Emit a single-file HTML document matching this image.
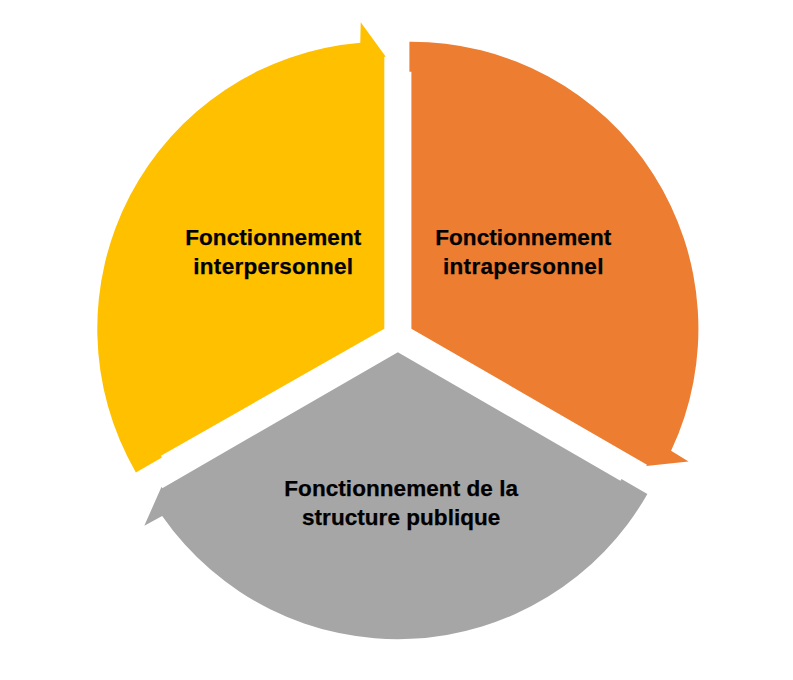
<!DOCTYPE html>
<html><head><meta charset="utf-8"><style>
html,body{margin:0;padding:0;background:#fff;}
body{width:793px;height:680px;position:relative;overflow:hidden;}
svg{position:absolute;left:0;top:0;}
.t{position:absolute;font-family:"Liberation Sans",sans-serif;font-weight:bold;color:#000;font-size:22.50px;line-height:22px;width:300px;text-align:center;white-space:nowrap;-webkit-text-stroke:0.25px #000;}
</style></head><body>
<svg width="793" height="680" viewBox="0 0 793 680">
<path fill="#FFC000" d="M384.30 328.68 L160.95 455.81 L161.94 457.55 L135.86 472.39 A287 287 0 0 1 360.28 42.68 L360.72 22.28 L385.80 56.68 L384.30 56.68 Z"/>
<path fill="#ED7D31" d="M411.40 328.68 L411.40 71.68 L409.40 71.68 L409.40 41.68 A287 287 0 0 1 671.09 450.87 L688.54 461.45 L646.21 465.97 L646.96 464.68 Z"/>
<path fill="#A6A6A6" d="M397.85 352.15 L620.42 480.65 L621.42 478.92 L647.40 493.92 A287 287 0 0 1 162.18 515.94 L144.29 525.76 L161.54 486.85 L162.29 488.15 Z"/>
</svg>
<div class="t" style="left:123.24px;top:226.65px;letter-spacing:0.08px;">Fonctionnement</div>
<div class="t" style="left:123.33px;top:255.65px;letter-spacing:0.26px;">interpersonnel</div>
<div class="t" style="left:373.24px;top:226.65px;letter-spacing:0.08px;">Fonctionnement</div>
<div class="t" style="left:373.36px;top:255.65px;letter-spacing:0.32px;">intrapersonnel</div>
<div class="t" style="left:251.23px;top:477.55px;letter-spacing:0.07px;">Fonctionnement de la</div>
<div class="t" style="left:251.22px;top:506.65px;letter-spacing:0.05px;">structure publique</div>
</body></html>
